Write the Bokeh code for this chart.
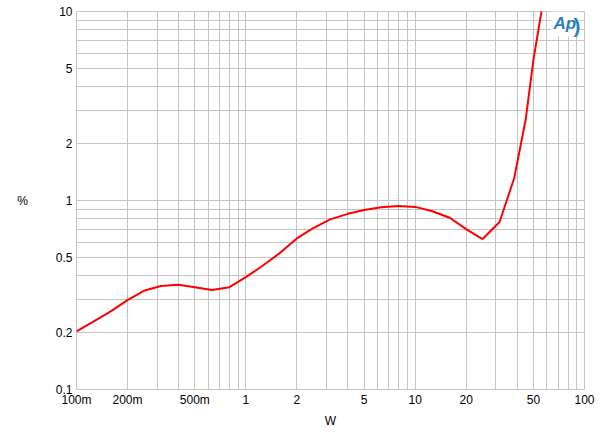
from bokeh.plotting import figure
from bokeh.models import FixedTicker, CustomJSTickFormatter, Label, Range1d
from bokeh.embed import file_html
from bokeh.resources import INLINE

# data: output power (W) vs THD+N (%)
power_w = [0.1, 0.125, 0.16, 0.2, 0.25, 0.315, 0.4, 0.5, 0.63, 0.8, 1.0, 1.25, 1.6,
           2.0, 2.5, 3.15, 4.0, 5.0, 6.3, 8.0, 10.0, 12.5, 16.0, 20.0, 25.0, 31.5,
           38.5, 45.0, 50.0, 56.0]
thd_pct = [0.203, 0.228, 0.26, 0.297, 0.333, 0.353, 0.358, 0.348, 0.336, 0.348, 0.393,
           0.45, 0.53, 0.63, 0.715, 0.795, 0.85, 0.89, 0.92, 0.935, 0.925, 0.88, 0.81,
           0.705, 0.625, 0.77, 1.32, 2.7, 5.6, 10.3]

x_ticks = [0.1, 0.2, 0.5, 1, 2, 5, 10, 20, 50, 100]
y_ticks = [0.1, 0.2, 0.5, 1, 2, 5, 10]
x_minor = [m * d for d in (0.1, 1, 10) for m in range(1, 10)] + [100]
y_minor = [m * d for d in (0.1, 1) for m in range(1, 10)] + [10]

p = figure(width=600, height=436, x_axis_type="log", y_axis_type="log",
           x_range=Range1d(0.1, 100), y_range=Range1d(0.1, 10),
           output_backend="svg", toolbar_location=None,
           min_border_left=76, min_border_right=16, min_border_top=11, min_border_bottom=47)

p.line(power_w, thd_pct, line_color="#ff0000", line_width=2)

p.xaxis.ticker = FixedTicker(ticks=x_ticks, minor_ticks=x_minor)
p.yaxis.ticker = FixedTicker(ticks=y_ticks, minor_ticks=y_minor)
p.xaxis.formatter = CustomJSTickFormatter(code="return tick < 1 ? Math.round(tick*1000) + 'm' : String(Math.round(tick*10)/10);")
p.yaxis.formatter = CustomJSTickFormatter(code="return String(Math.round(tick*10)/10);")

for ax in (p.xaxis[0], p.yaxis[0]):
    ax.axis_line_color = None
    ax.major_tick_line_color = None
    ax.minor_tick_line_color = None
    ax.major_tick_out = 0
    ax.minor_tick_out = 0
    ax.major_label_text_font = "Liberation Sans"
    ax.major_label_text_font_size = "12px"
    ax.major_label_text_color = "black"
    ax.axis_label_text_font = "Liberation Sans"
    ax.axis_label_text_font_size = "12px"
    ax.axis_label_text_font_style = "normal"
    ax.axis_label_text_color = "black"

p.xaxis.axis_label = "W"
p.xaxis.major_label_standoff = 3
p.xaxis.axis_label_standoff = 4
p.yaxis.axis_label = "%"
p.yaxis.major_label_orientation = "horizontal"
p.yaxis.axis_label_orientation = "horizontal"
p.yaxis.major_label_standoff = 4
p.yaxis.axis_label_standoff = 25

for g in (p.xgrid[0], p.ygrid[0]):
    g.grid_line_color = "#c4c4c4"
    g.grid_line_width = 1
    g.minor_grid_line_color = "#c4c4c4"
    g.minor_grid_line_width = 1

p.outline_line_color = "#c4c4c4"
p.background_fill_color = "white"
p.border_fill_color = "white"

logo = Label(x=63, y=7.4, text="Ap", text_baseline="bottom",
             text_font="Liberation Sans", text_font_style="bold italic",
             text_font_size="17px", text_color="#2a80c2",
             background_fill_color="white", padding=3)
logo2 = Label(x=86, y=7.3, text=")", text_baseline="bottom",
              text_font="Liberation Sans", text_font_style="bold",
              text_font_size="21px", text_color="#2a80c2")
p.add_layout(logo)
p.add_layout(logo2)

open("out.html", "w").write(file_html(p, INLINE))
